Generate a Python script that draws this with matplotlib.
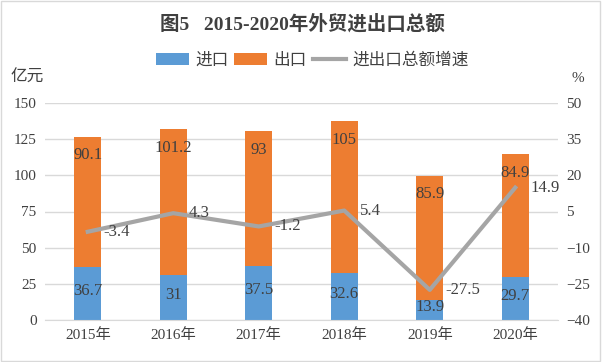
import matplotlib.pyplot as plt
import numpy as np

years = ["2015年", "2016年", "2017年", "2018年", "2019年", "2020年"]
imports = [36.7, 31, 37.5, 32.6, 13.9, 29.7]
exports = [90.1, 101.2, 93, 105, 85.9, 84.9]
growth = [-3.4, 4.3, -1.2, 5.4, -27.5, 14.9]

plt.rcParams['font.family'] = ['Liberation Serif', 'Noto Sans CJK SC', 'DejaVu Sans']

blue = "#5B9BD5"
orange = "#ED7D31"
gray = "#A5A5A5"
txt = "#404040"

fig = plt.figure(figsize=(6.02, 3.62), dpi=100)
ax = fig.add_axes([45 / 602, 1 - 320 / 362, 513 / 602, 217 / 362])
x = np.arange(len(years))
w = 0.32

b1 = ax.bar(x, imports, w, color=blue, label="进口", zorder=2)
b2 = ax.bar(x, exports, w, bottom=imports, color=orange, label="出口", zorder=2)

# data labels: imports centred, exports just inside the top
for i in range(len(x)):
    ax.text(x[i], imports[i] / 2 + 2, f"{imports[i]:g}", ha="center", va="center",
            fontsize=12, color=txt, zorder=4)
    ax.text(x[i], imports[i] + exports[i] - 13, f"{exports[i]:g}", ha="center", va="center",
            fontsize=12, color=txt, zorder=4)

ax.set_xlim(-0.5, 5.5)
ax.set_ylim(0, 150)
ax.set_yticks(range(0, 151, 25))
ax.set_xticks(x)
ax.set_xticklabels(years)
ax.grid(axis="y", color="#D9D9D9", linewidth=1, zorder=0)
ax.set_axisbelow(True)
for s in ["top", "left", "right"]:
    ax.spines[s].set_visible(False)
ax.spines["bottom"].set_color("#D9D9D9")
ax.tick_params(length=0, labelsize=11, colors=txt, pad=6)

ax2 = ax.twinx()
ln, = ax2.plot(x, growth, color=gray, linewidth=3, label="进出口总额增速", zorder=3)
for i in range(len(x)):
    ax2.text(x[i] + 0.18, growth[i], f"{growth[i]:g}", ha="left", va="center",
             fontsize=12, color=txt, zorder=4)
ax2.set_ylim(-40, 50)
ax2.set_yticks(range(-40, 51, 15))
for s in ["top", "left", "right", "bottom"]:
    ax2.spines[s].set_visible(False)
ax2.tick_params(length=0, labelsize=11, colors=txt, pad=6)

fig.text(302 / 602, 1 - 24 / 362, "图5   2015-2020年外贸进出口总额", ha="center", va="center",
         fontsize=14, color=txt, fontweight="bold")
fig.legend(handles=[b1, b2, ln], loc="center", bbox_to_anchor=(312 / 602, 1 - 61 / 362),
           ncol=3, frameon=False, fontsize=12, handlelength=2.0, handletextpad=0.36,
           columnspacing=0.36, labelcolor=txt)
fig.text(10 / 602, 1 - 78 / 362, "亿元", ha="left", va="center", fontsize=12, color=txt)
fig.text(578 / 602, 1 - 78 / 362, "%", ha="center", va="center", fontsize=11, color=txt)

fig.patches.append(plt.Rectangle((0.002, 0.003), 0.995, 0.993, transform=fig.transFigure,
                                 fill=False, edgecolor="#D9D9D9", linewidth=1))

fig.savefig("out.png", dpi=100)
